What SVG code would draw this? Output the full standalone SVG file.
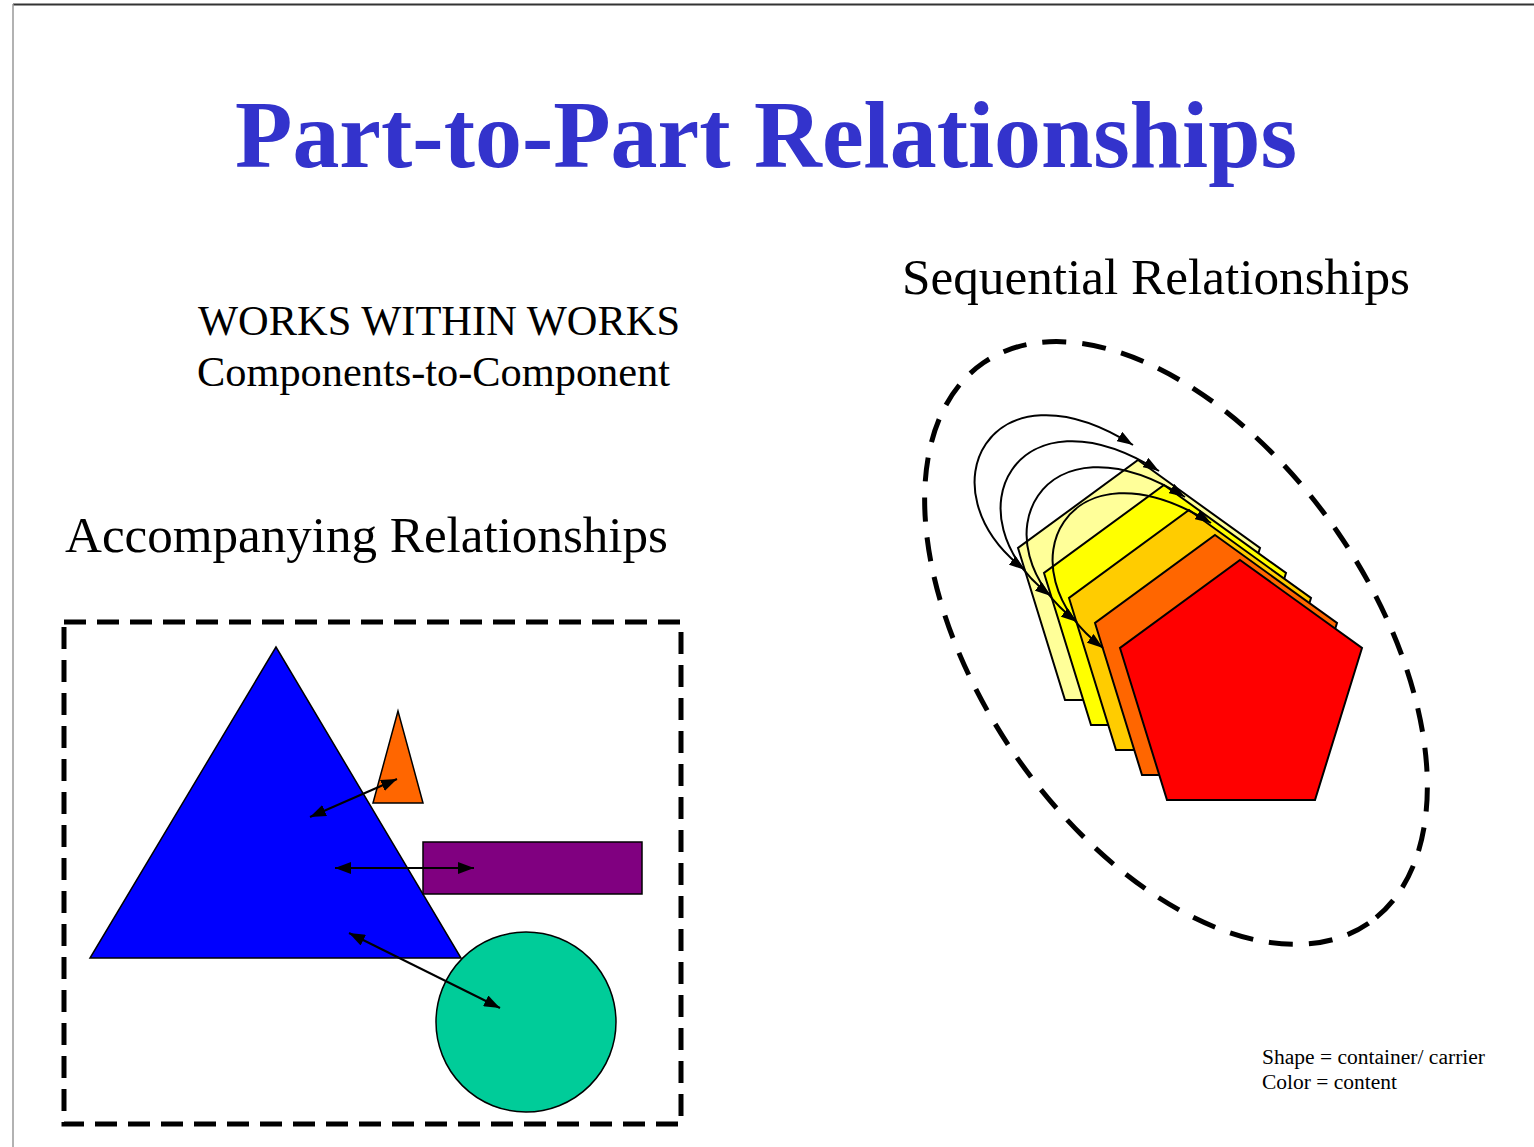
<svg xmlns="http://www.w3.org/2000/svg" width="1534" height="1147" viewBox="0 0 1534 1147">
<style>
  text { font-family: "Liberation Serif", "Times New Roman", serif; fill: #000; }
  .title { font-size: 96px; font-weight: bold; fill: #3333CC; }
  .sub { font-size: 42px; }
  .head { font-size: 51px; }
  .note { font-size: 20px; }
  .shape { stroke: #000; stroke-width: 1.5; stroke-linejoin: miter; }
  .pshape { stroke: #000; stroke-width: 2; stroke-linejoin: miter; }
  .dash { fill: none; stroke: #000; stroke-width: 5; }
  .conn { fill: none; stroke: #000; stroke-width: 2; }
  .arc { fill: none; stroke: #000; stroke-width: 2; }
</style>
<defs>
  <marker id="ah" viewBox="0 0 16 12" refX="16" refY="6" markerWidth="16" markerHeight="12" markerUnits="userSpaceOnUse" orient="auto-start-reverse">
    <path d="M0,0 L16,6 L0,12 z" fill="#000"/>
  </marker>
  <marker id="ah2" viewBox="0 0 16 11" refX="16" refY="5.5" markerWidth="16" markerHeight="11" markerUnits="userSpaceOnUse" orient="auto-start-reverse">
    <path d="M0,0 L16,5.5 L0,11 z" fill="#000"/>
  </marker>
  <polygon id="pent" points="1240,560 1362,648 1315,800 1167,800 1120,648"/>
</defs>
<rect x="0" y="0" width="1534" height="1147" fill="#fff"/>
<line x1="13" y1="4.5" x2="1534" y2="4.5" stroke="#333" stroke-width="2"/>
<line x1="13" y1="4" x2="13" y2="1147" stroke="#999" stroke-width="1.5"/>

<text class="title" x="235" y="167" textLength="1062" lengthAdjust="spacingAndGlyphs">Part-to-Part Relationships</text>
<text class="sub" x="198" y="335" textLength="482" lengthAdjust="spacingAndGlyphs">WORKS WITHIN WORKS</text>
<text class="sub" x="197" y="386" textLength="473" lengthAdjust="spacingAndGlyphs">Components-to-Component</text>
<text class="head" x="65" y="552" textLength="603" lengthAdjust="spacingAndGlyphs">Accompanying Relationships</text>
<text class="head" x="902" y="294" textLength="508" lengthAdjust="spacingAndGlyphs">Sequential Relationships</text>
<text class="note" x="1262" y="1064" textLength="223" lengthAdjust="spacingAndGlyphs">Shape = container/ carrier</text>
<text class="note" x="1262" y="1089" textLength="135" lengthAdjust="spacingAndGlyphs">Color = content</text>

<g id="accompanying-frame">
  <rect class="dash" x="64" y="622" width="617" height="502" stroke-dasharray="22 11"/>
</g>
<g id="blue-triangle">
  <polygon class="shape" points="276,647 90,958 461,958" fill="#0000FF"/>
</g>
<g id="orange-triangle">
  <polygon class="shape" points="398,711 373,803 423,803" fill="#FF6600"/>
</g>
<g id="purple-rect">
  <rect class="shape" x="423" y="842" width="219" height="52" fill="#800080"/>
</g>
<g id="green-circle">
  <ellipse class="shape" cx="526" cy="1022" rx="90" ry="90" fill="#00CC99"/>
</g>

<g id="sequential-frame">
  <ellipse class="dash" cx="1176" cy="643" rx="340" ry="196" transform="rotate(55.5 1176 643)" stroke-dasharray="24 16"/>
</g>
<g id="pentagon-lightyellow"><use href="#pent" class="pshape" fill="#FFFF99" transform="translate(-102,-100)"/></g>
<g id="pentagon-yellow"><use href="#pent" class="pshape" fill="#FFFF00" transform="translate(-76,-75)"/></g>
<g id="pentagon-gold"><use href="#pent" class="pshape" fill="#FFCC00" transform="translate(-51,-50)"/></g>
<g id="pentagon-orange"><use href="#pent" class="pshape" fill="#FF6600" transform="translate(-25,-25)"/></g>
<g id="pentagon-red"><use href="#pent" class="pshape" fill="#FF0000"/></g>

<g id="connectors">
  <line class="conn" x1="310" y1="817" x2="397" y2="779" marker-start="url(#ah)" marker-end="url(#ah)"/>
  <line class="conn" x1="335" y1="868" x2="474" y2="868" marker-start="url(#ah)" marker-end="url(#ah)"/>
  <line class="conn" x1="349" y1="933" x2="500" y2="1008" marker-start="url(#ah)" marker-end="url(#ah)"/>
  <path class="arc" d="M1025,570 C920,490 990,355 1133,445" marker-start="url(#ah2)" marker-end="url(#ah2)"/>
  <path class="arc" d="M1025,570 C920,490 990,355 1133,445" transform="translate(26,26)" marker-start="url(#ah2)" marker-end="url(#ah2)"/>
  <path class="arc" d="M1025,570 C920,490 990,355 1133,445" transform="translate(52,52)" marker-start="url(#ah2)" marker-end="url(#ah2)"/>
  <path class="arc" d="M1025,570 C920,490 990,355 1133,445" transform="translate(78,78)" marker-start="url(#ah2)" marker-end="url(#ah2)"/>
</g>
</svg>
